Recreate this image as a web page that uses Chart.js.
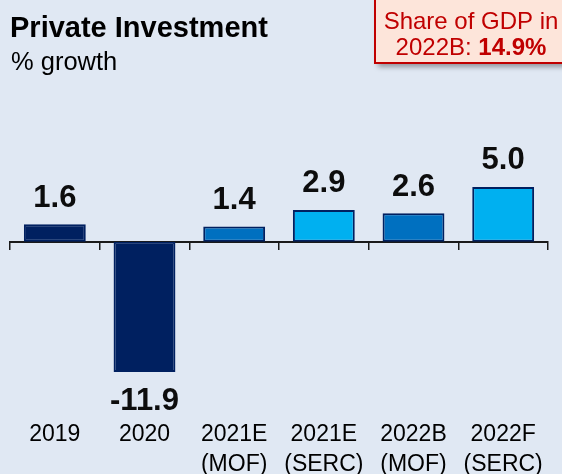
<!DOCTYPE html>
<html>
<head>
<meta charset="utf-8">
<script src="https://cdn.jsdelivr.net/npm/chart.js@4.4.1/dist/chart.umd.min.js"></script>
<style>
  html, body { margin: 0; padding: 0; background: #E0E8F3; }
  #wrap { width: 562px; height: 474px; position: relative; }
</style>
</head>
<body>
<div id="wrap"><canvas id="chart" width="562" height="474"></canvas></div>
<script>
// data
const categories = ['2019', '2020', ['2021E', '(MOF)'], ['2021E', '(SERC)'], ['2022B', '(MOF)'], ['2022F', '(SERC)']];
const growth = [1.6, -11.9, 1.4, 2.9, 2.6, 5.0];
const title = 'Private Investment';
const subtitle = '% growth';
const noteLines = ['Share of GDP in', '2022B: ', '14.9%'];

const FONT = "'Liberation Sans', Arial, sans-serif";
const NAVY = '#002060';
const barColors = [NAVY, NAVY, '#0070C0', '#00B0F0', '#0070C0', '#00B0F0'];

// title, subtitle and the red note box
const headerPlugin = {
  id: 'header',
  afterDraw(chart) {
    const ctx = chart.ctx;
    ctx.save();
    ctx.fillStyle = '#000';
    ctx.textAlign = 'left';
    ctx.textBaseline = 'alphabetic';
    ctx.font = `bold 29px ${FONT}`;
    ctx.fillText(title, 10, 37);
    ctx.font = `25.5px ${FONT}`;
    ctx.fillText(subtitle, 11, 70);

    // note box
    ctx.save();
    ctx.shadowColor = 'rgba(0,0,0,0.35)';
    ctx.shadowBlur = 5;
    ctx.shadowOffsetX = 3;
    ctx.shadowOffsetY = 4;
    ctx.fillStyle = '#FDE5DA';
    ctx.fillRect(375, -5, 200, 68);
    ctx.restore();
    ctx.strokeStyle = '#C00000';
    ctx.lineWidth = 2;
    ctx.strokeRect(375, -5, 200, 68);

    ctx.fillStyle = '#C00000';
    ctx.textAlign = 'center';
    ctx.font = `24px ${FONT}`;
    ctx.fillText(noteLines[0], 471, 29);
    const w1 = ctx.measureText(noteLines[1]).width;
    ctx.font = `bold 24px ${FONT}`;
    const w2 = ctx.measureText(noteLines[2]).width;
    const x0 = 471 - (w1 + w2) / 2;
    ctx.textAlign = 'left';
    ctx.font = `24px ${FONT}`;
    ctx.fillText(noteLines[1], x0, 55);
    ctx.font = `bold 24px ${FONT}`;
    ctx.fillText(noteLines[2], x0 + w1, 55);
    ctx.restore();
  }
};

// value labels above / below each bar
const valueLabels = {
  id: 'valueLabels',
  afterDatasetsDraw(chart) {
    const ctx = chart.ctx;
    const meta = chart.getDatasetMeta(0);
    ctx.save();
    ctx.fillStyle = '#0D0D0D';
    ctx.font = `bold 31px ${FONT}`;
    ctx.textAlign = 'center';
    ctx.textBaseline = 'alphabetic';
    meta.data.forEach((bar, i) => {
      const v = growth[i];
      const y = v >= 0 ? bar.y - 17.5 : bar.y + 38;
      ctx.fillText(v.toFixed(1), bar.x, y);
    });
    ctx.restore();
  }
};

new Chart(document.getElementById('chart'), {
  type: 'bar',
  data: {
    labels: categories,
    datasets: [{
      data: growth,
      backgroundColor: barColors,
      borderColor: NAVY,
      borderWidth: 2,
      borderSkipped: false,
      barPercentage: 0.69,
      categoryPercentage: 1
    }]
  },
  options: {
    responsive: false,
    animation: false,
    devicePixelRatio: 1,
    layout: { padding: { top: 10, left: 10, right: 14, bottom: 0 } },
    plugins: {
      legend: { display: false },
      tooltip: { enabled: false }
    },
    scales: {
      x: {
        position: 'bottom',
        grid: { display: false, drawTicks: false },
        border: { display: false },
        ticks: {
          color: '#000',
          font: { family: FONT, size: 23, lineHeight: 1.3 },
          padding: 0,
          maxRotation: 0,
          autoSkip: false
        },
        afterFit(scale) { scale.height = 54; }
      },
      x2: {
        type: 'category',
        position: { y: 0 },
        offset: true,
        grid: { offset: true, drawOnChartArea: false, drawTicks: true, tickLength: 7, color: '#1A1A1A', lineWidth: 1.5 },
        border: { display: true, color: '#1A1A1A', width: 2 },
        ticks: { display: false }
      },
      y: {
        display: false,
        min: -16.28,
        max: 21.16
      }
    }
  },
  plugins: [valueLabels, headerPlugin]
});
</script>
</body>
</html>
